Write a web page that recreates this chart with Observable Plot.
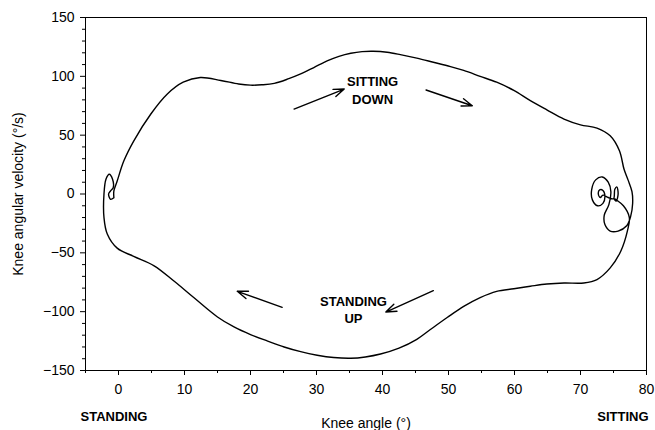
<!DOCTYPE html>
<html>
<head>
<meta charset="utf-8">
<script src="https://cdn.jsdelivr.net/npm/d3@7"></script>
<script src="https://cdn.jsdelivr.net/npm/@observablehq/plot@0.6"></script>
<style>
  html, body { margin: 0; padding: 0; background: #fff; }
  #chart svg { font-family: "Liberation Sans", Arial, sans-serif; }
  #chart svg [aria-label$="tick label"] { font-size: 14px; }
  #chart svg [aria-label$="-axis label"] { font-size: 14px; }
</style>
</head>
<body>
<div id="chart"></div>
<script>
// Knee angle (deg) along the cycle: standing -> sitting down -> sitting -> standing up -> standing
const angle = [
  -0.7, -0.7, -0.2, 0.8, 2.3, 4.9, 7.4, 9.8, 12.4, 15.5, 18.2, 20.0, 21.7, 23.6, 25.8, 27.6, 29.6, 31.7, 33.4, 35.2, 36.9, 38.6, 40.7, 42.7, 45.2, 47.7, 50.3, 52.3, 54.8, 57.3, 59.9, 62.4, 64.9, 67.5, 70.0, 72.5, 74.5, 75.9, 76.6,
  77.2, 77.8, 77.9, 77.6, 77.0, 75.7, 74.5, 73.7, 73.6, 74.3, 74.6, 74.2, 73.3, 72.3, 71.7, 71.8, 72.6, 73.4, 73.7, 73.4, 72.9, 72.7, 73.0, 73.4, 74.2,
  75.0, 75.2, 75.5, 75.7, 75.4, 75.1, 76.5, 77.4,
  77.1, 76.1, 74.5, 72.5, 70.5, 67.5, 64.9, 62.4, 59.9, 57.3, 54.8, 52.3, 49.8, 47.2, 45.2, 42.5, 39.7, 37.4, 35.2, 32.6, 30.1, 27.6, 25.1, 22.6, 20.0, 17.5, 15.0, 11.4, 8.4, 5.4, 2.3, -0.2, -1.7,
  -2.2, -2.2, -1.9, -1.4, -0.9, -0.8, -1.2, -1.5, -1.2, -0.7
];
// Knee angular velocity (deg/s) at each point
const velocity = [
  -3.2, 2.6, 11, 28, 45, 68, 85, 95, 99, 96.5, 93.5, 92.5, 92.8, 94, 98, 102, 107.5, 113.4, 117, 119.6, 121, 121.3, 120.5, 118.5, 115.5, 112, 108.3, 105, 100, 95, 88, 79.3, 71.5, 63.7, 58.8, 56, 49.4, 36.7, 21,
  12, 2, -8, -19, -27, -31.5, -31.5, -26, -18, -9, 2, 10, 14.5, 12, 4, -5, -10, -8, -2, 3, 3.5, 0, -3, -1, -3,
  -4, 4, 6, 0, -6, -4, -10, -20,
  -31.5, -48.6, -62.8, -72.7, -75.6, -75.6, -76.5, -78.4, -80.5, -82.7, -88, -95.5, -105, -115.4, -123.5, -131, -136, -138.5, -139.6, -139, -137, -134, -130, -125, -119.5, -113, -104.5, -88, -74, -61, -53, -46, -34,
  -20, 0, 12.5, 16.8, 12.5, 5.4, 2.6, 0, -4.5, -3.2
];
const path = angle.map((a, i) => ({angle: a, velocity: velocity[i]}));

// Direction arrows (tail -> head, data units)
const arrowX1 = [26.6, 46.6, 24.8, 47.7];
const arrowY1 = [72.2, 88.4, -96.3, -82.1];
const arrowX2 = [34.2, 53.6, 18.0, 40.5];
const arrowY2 = [89.2, 75.0, -82.7, -100.3];
const arrows = arrowX1.map((x, i) => ({x1: x, y1: arrowY1[i], x2: arrowX2[i], y2: arrowY2[i]}));

// Phase labels
const phaseText = ["SITTING\nDOWN", "STANDING\nUP"];
const phaseX = [38.5, 35.6];
const phaseY = [88.7, -97.6];
const phases = phaseText.map((t, i) => ({text: t, x: phaseX[i], y: phaseY[i]}));

// Axis ticks
const xMajor = [0, 10, 20, 30, 40, 50, 60, 70, 80];
const xMinor = [-5, 5, 15, 25, 35, 45, 55, 65, 75];
const yMajor = [-150, -100, -50, 0, 50, 100, 150];
const yMinor = [-140, -130, -120, -110, -90, -80, -70, -60, -40, -30, -20, -10, 10, 20, 30, 40, 60, 70, 80, 90, 110, 120, 130, 140];

const chart = Plot.plot({
  width: 655,
  height: 430,
  marginLeft: 85,
  marginRight: 9,
  marginTop: 17,
  marginBottom: 60,
  style: {fontFamily: "'Liberation Sans', Arial, sans-serif", fontSize: "14px", color: "#000", background: "#fff"},
  x: {domain: [-5, 80]},
  y: {domain: [-150, 150]},
  marks: [
    Plot.frame({stroke: "#000", strokeWidth: 1}),
    Plot.axisX({ticks: xMajor, tickSize: 5, tickPadding: 9, fontSize: 14, label: "Knee angle (°)", labelAnchor: "center", labelOffset: 57, labelArrow: "none"}),
    Plot.axisX({ticks: xMinor, tickSize: 3, tickFormat: () => "", label: null}),
    Plot.axisY({ticks: yMajor, tickSize: 5, tickPadding: 6, fontSize: 14, label: "Knee angular velocity (°/s)", labelAnchor: "center", labelOffset: 72, labelArrow: "none"}),
    Plot.axisY({ticks: yMinor, tickSize: 3, tickFormat: () => "", label: null}),
    Plot.line(path, {x: "angle", y: "velocity", curve: "catmull-rom", stroke: "#000", strokeWidth: 1.4}),
    Plot.arrow(arrows, {x1: "x1", y1: "y1", x2: "x2", y2: "y2", stroke: "#000", strokeWidth: 1.4, headLength: 12, headAngle: 40}),
    Plot.text(phases, {x: "x", y: "y", text: "text", fontWeight: "bold", fontSize: 13, lineHeight: 1.35, fill: "#000"}),
    Plot.text(["STANDING"], {frameAnchor: "bottom-left", textAnchor: "start", dx: -5, dy: 50, fontWeight: "bold", fontSize: 13, fill: "#000"}),
    Plot.text(["SITTING"], {frameAnchor: "bottom-right", textAnchor: "end", dx: 2, dy: 50, fontWeight: "bold", fontSize: 13, fill: "#000"})
  ]
});
document.getElementById("chart").appendChild(chart);
</script>
</body>
</html>
